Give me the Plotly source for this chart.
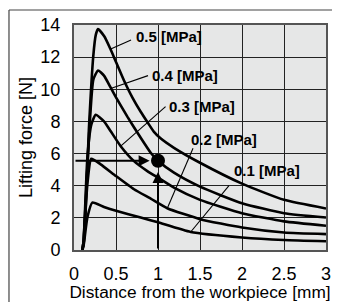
import plotly.graph_objects as go

# ---- data ----
x_05 = [0.10, 0.12, 0.18, 0.23, 0.26, 0.286, 0.36, 0.43, 0.50, 0.595, 0.694, 0.794, 0.881, 0.952, 1.03, 1.19, 1.5, 2.0, 2.5, 3.0]
y_05 = [0.0, 0.6, 7.8, 12.1, 13.4, 13.75, 13.3, 12.55, 11.7, 10.55, 9.5, 8.6, 7.9, 7.35, 6.95, 6.36, 5.43, 4.13, 3.12, 2.58]

x_04 = [0.10, 0.115, 0.18, 0.23, 0.286, 0.357, 0.437, 0.5, 0.635, 0.794, 0.913, 1.0, 1.19, 1.5, 2.0, 2.5, 3.0]
y_04 = [0.0, 0.6, 7.2, 10.6, 11.17, 10.85, 10.1, 9.5, 8.3, 6.98, 6.05, 5.55, 4.81, 3.94, 2.91, 2.29, 2.02]

x_03 = [0.10, 0.115, 0.159, 0.206, 0.258, 0.357, 0.437, 0.556, 0.714, 0.873, 1.0, 1.19, 1.5, 2.0, 2.5, 3.0]
y_03 = [0.0, 0.6, 5.74, 7.8, 8.42, 8.01, 7.39, 6.46, 5.53, 4.91, 4.5, 3.88, 3.12, 2.29, 1.78, 1.51]

x_02 = [0.10, 0.115, 0.159, 0.206, 0.317, 0.5, 0.714, 0.913, 1.111, 1.5, 2.0, 2.5, 3.0]
y_02 = [0.0, 0.6, 4.09, 5.68, 5.33, 4.6, 3.78, 3.2, 2.6, 1.92, 1.40, 1.09, 0.99]

x_01 = [0.10, 0.115, 0.159, 0.218, 0.357, 0.5, 0.794, 1.0, 1.389, 2.0, 2.5, 3.0]
y_01 = [0.0, 0.3, 2.02, 2.95, 2.68, 2.44, 2.02, 1.72, 1.12, 0.78, 0.62, 0.54]

series_names = ["0.5 [MPa]", "0.4 [MPa]", "0.3 [MPa]", "0.2 [MPa]", "0.1 [MPa]"]
series_x = [x_05, x_04, x_03, x_02, x_01]
series_y = [y_05, y_04, y_03, y_02, y_01]

# label text anchor (left, middle) and leader line (on-curve point -> label point)
label_pos = [(0.714, 13.3), (0.905, 10.85), (1.11, 8.95), (1.369, 6.9), (1.88, 4.95)]
leader_from = [(0.437, 12.5), (0.437, 10.05), (0.556, 6.46), (1.111, 2.6), (1.389, 1.12)]
leader_to = [(0.679, 13.07), (0.881, 10.85), (1.09, 8.92), (1.417, 6.33), (1.845, 4.0)]

x_ticks = [0, 0.5, 1, 1.5, 2, 2.5, 3]
x_ticklabels = ["0", "0.5", "1", "1.5", "2", "2.5", "3"]
y_ticks = [0, 2, 4, 6, 8, 10, 12, 14]

point_x = [1.0]
point_y = [5.55]

FONT = "Liberation Sans, Arial, sans-serif"
BG = "#e6e7e7"

fig = go.Figure()
for nm, xs, ys in zip(series_names, series_x, series_y):
    fig.add_trace(go.Scatter(x=xs, y=ys, mode="lines", name=nm,
                             line=dict(color="#000000", width=2.6, shape="spline", smoothing=0.5),
                             showlegend=False, hoverinfo="skip"))

fig.add_trace(go.Scatter(x=point_x, y=point_y, mode="markers",
                         marker=dict(color="#000000", size=14), showlegend=False))

annotations = []
shapes = []
# plot-area background (backup for plot_bgcolor)
shapes.append(dict(type="rect", xref="paper", yref="paper", x0=0, y0=0, x1=1, y1=1,
                   fillcolor=BG, line=dict(width=0), layer="below"))

for nm, (lx, ly), (fx, fy), (tx, ty) in zip(series_names, label_pos, leader_from, leader_to):
    annotations.append(dict(x=lx, y=ly, xref="x", yref="y", text="<b>%s</b>" % nm,
                            showarrow=False, xanchor="left", yanchor="middle",
                            font=dict(family=FONT, size=15, color="#000")))
    shapes.append(dict(type="line", xref="x", yref="y", x0=fx, y0=fy, x1=tx, y1=ty,
                       line=dict(color="#000", width=1.1)))

# arrows to the point
annotations.append(dict(x=0.9, y=point_y[0], ax=0.0, ay=point_y[0], xref="x", yref="y",
                        axref="x", ayref="y", text="", showarrow=True, arrowhead=2,
                        arrowsize=1.1, arrowwidth=2, arrowcolor="#000"))
annotations.append(dict(x=point_x[0], y=4.85, ax=point_x[0], ay=0.0, xref="x", yref="y",
                        axref="x", ayref="y", text="", showarrow=True, arrowhead=2,
                        arrowsize=1.1, arrowwidth=2, arrowcolor="#000"))

# cropped title (mostly above the visible area, as in the reference)
annotations.append(dict(x=-0.262, y=1.118, xref="paper", yref="paper",
                        text="<b>Lifting Force–Distance with Workpiece</b>", showarrow=False,
                        xanchor="left", yanchor="bottom",
                        font=dict(family=FONT, size=25, color="#000")))

# outer frame (left and top edges)
shapes.append(dict(type="line", xref="paper", yref="paper", x0=-0.258, y0=-1.0, x1=-0.258, y1=1.0667,
                   line=dict(color="#444", width=1.2)))
shapes.append(dict(type="line", xref="paper", yref="paper", x0=-0.258, y0=1.0667, x1=2.0, y1=1.0667,
                   line=dict(color="#444", width=1.2)))

# page has an 8px body margin: figure is shifted so the plot lands where the reference has it
fig.update_layout(
    width=332, height=294,
    margin=dict(l=66, r=14, t=17, b=52, autoexpand=False),
    paper_bgcolor="white", plot_bgcolor=BG,
    font=dict(family=FONT, size=18, color="#000"),
    annotations=annotations, shapes=shapes,
    xaxis=dict(range=[0, 3], tickvals=x_ticks, ticktext=x_ticklabels,
               showgrid=True, gridcolor="#222222", gridwidth=1, layer="above traces",
               showline=True, linecolor="#555", linewidth=2, mirror=True,
               zeroline=False, ticks="outside", ticklen=6, tickcolor="rgba(0,0,0,0)",
               automargin=False,
               title=dict(text="Distance from the workpiece [mm]", standoff=4,
                          font=dict(size=17.3))),
    yaxis=dict(range=[0, 14], tickvals=y_ticks,
               showgrid=True, gridcolor="#222222", gridwidth=1,
               showline=True, linecolor="#555", linewidth=2, mirror=True,
               zeroline=False, ticks="outside", ticklen=8, tickcolor="rgba(0,0,0,0)",
               automargin=False,
               title=dict(text="Lifting force [N]", standoff=3, font=dict(size=18))),
)

fig.write_html("out.html")
